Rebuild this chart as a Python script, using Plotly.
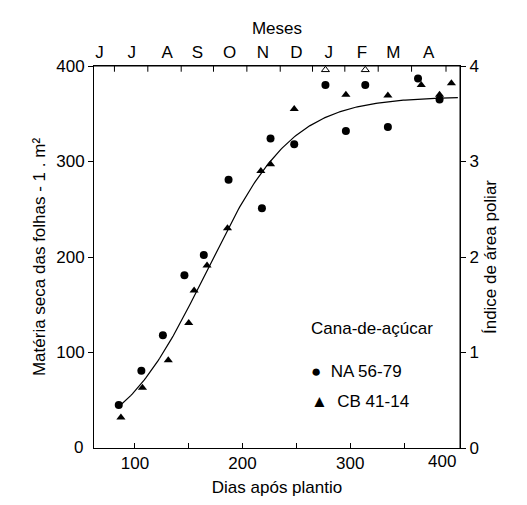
import numpy as np
import plotly.graph_objects as go

na_x = [85, 106, 126, 146, 164, 187, 218, 226, 248, 277, 296, 314, 335, 363, 383]
na_y = [45, 81, 118, 181, 202, 281, 251, 324, 318, 380, 332, 380, 336, 387, 365]
cb_x = [87, 107, 131, 150, 155, 167, 186, 217, 226, 248, 296, 335, 366, 383, 394]
cb_y = [0.32, 0.63, 0.92, 1.31, 1.65, 1.91, 2.30, 2.90, 2.97, 3.55, 3.70, 3.69, 3.80, 3.70, 3.82]
cb_open_x = [277, 314]
cb_open_y = [3.96, 3.96]
fit_a, fit_k, fit_x0 = 368, 0.0249, 166
months = ["J", "J", "A", "S", "O", "N", "D", "J", "F", "M", "A"]
month_pos = [67, 97, 130, 158, 188, 219, 250, 280, 311, 340, 373]
month_ticks = [81, 112, 143, 173, 204, 235, 265, 295, 326, 357, 389]

F = "Liberation Sans, Arial, sans-serif"
FS = 17
fig = go.Figure()
cx = np.linspace(85, 400, 200)
fig.add_trace(go.Scatter(x=cx, y=fit_a/(1+np.exp(-fit_k*(cx-fit_x0))), mode="lines",
                         line=dict(color="black", width=1.2), hoverinfo="skip"))
fig.add_trace(go.Scatter(x=na_x, y=na_y, mode="markers", marker=dict(symbol="circle", size=8, color="black")))
fig.add_trace(go.Scatter(x=cb_x, y=cb_y, mode="markers", yaxis="y2", marker=dict(symbol="triangle-up", size=8, color="black")))
fig.add_trace(go.Scatter(x=cb_open_x, y=cb_open_y, mode="markers", yaxis="y2",
                         marker=dict(symbol="triangle-up-open", size=7, color="black")))
fig.add_trace(go.Scatter(x=[month_pos[0]], y=[0], xaxis="x2", mode="markers", marker=dict(opacity=0), hoverinfo="skip"))

ax = dict(showline=True, linecolor="black", linewidth=1, mirror=False, showgrid=False, zeroline=False,
          automargin=False, ticks="outside", tickcolor="black", ticklen=5,
          tickfont=dict(family=F, size=FS, color="black"))
tf = dict(family=F, size=FS, color="black")
fig.update_layout(
    width=527, height=505, showlegend=False, plot_bgcolor="white", paper_bgcolor="white",
    margin=dict(l=86, r=75, t=58, b=65),
    xaxis=dict(**{**ax, "ticks": "inside"}, range=[62, 402], tickvals=[100, 150, 200, 250, 300, 350],
               ticktext=["100", "", "200", "", "300", ""],
               title=dict(text="Dias após plantio", font=tf, standoff=8)),
    xaxis2=dict(**{**ax, "ticks": ""}, overlaying="x", side="top", range=[62, 402],
                tickvals=month_pos, ticktext=months,
                title=dict(text="Meses", font=tf, standoff=4)),
    yaxis=dict(**ax, range=[0, 400], tickvals=[100, 200, 300, 400],
               title=dict(text="Matéria seca das folhas - 1 . m²", font=tf, standoff=6)),
    yaxis2=dict(**ax, overlaying="y", side="right", range=[0, 4], tickvals=[0, 1, 2, 3, 4],
                title=dict(text="Índice de área poliar", font=tf, standoff=6)),
)
for t in month_ticks:
    fig.add_shape(type="line", xref="x", yref="paper", x0=t, x1=t, y0=1, y1=0.985, line=dict(color="black", width=1))
fig.add_shape(type="line", xref="x", yref="paper", x0=402, x1=402, y0=0, y1=1, line=dict(color="black", width=1))
fig.add_shape(type="line", xref="x", yref="paper", x0=62, x1=402, y0=1, y1=1, line=dict(color="black", width=1))
fig.add_annotation(x=400, y=0, xref="x", yref="paper", yanchor="top", xanchor="right", yshift=-2,
                   text="400", showarrow=False, font=tf)
fig.add_annotation(x=-0.06, y=-0.03, xref="paper", yref="paper", text="0", showarrow=False, font=tf)
fig.add_annotation(x=262, y=125, xref="x", yref="y", xanchor="left", text="Cana-de-açúcar", showarrow=False, font=tf)
fig.add_annotation(x=262, y=80, xref="x", yref="y", xanchor="left", text="●  NA 56-79", showarrow=False, font=tf)
fig.add_annotation(x=262, y=49, xref="x", yref="y", xanchor="left", text="▲  CB 41-14", showarrow=False, font=tf)
fig.write_html("out.html")
